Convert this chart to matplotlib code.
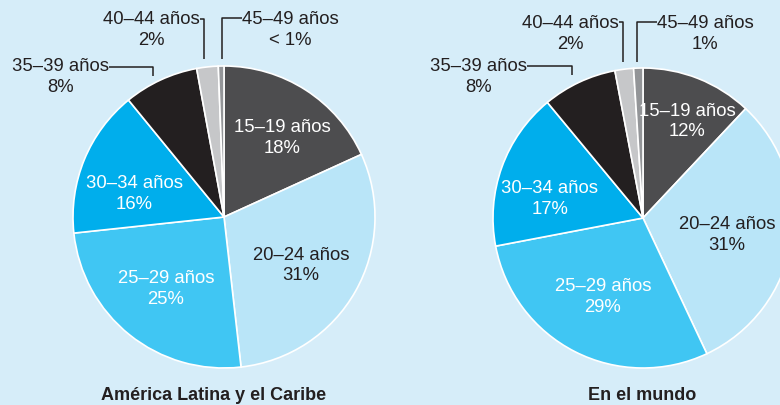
import matplotlib
matplotlib.use("Agg")
import matplotlib.pyplot as plt

plt.rcParams["font.family"] = ["Liberation Sans", "DejaVu Sans"]

W, H = 780, 406
BG = "#d6edf9"
OSCURO = "#231f20"

grupos = ["15–19 años", "20–24 años", "25–29 años", "30–34 años",
          "35–39 años", "40–44 años", "45–49 años"]
alc_vals = [18.2, 30.0, 25.1, 15.8, 8.0, 2.3, 0.6]
alc_txt = ["18%", "31%", "25%", "16%", "8%", "2%", "< 1%"]
mundo_vals = [12, 31, 29, 17, 8, 2, 1]
mundo_txt = ["12%", "31%", "29%", "17%", "8%", "2%", "1%"]
titulos = ["América Latina y el Caribe", "En el mundo"]

colores = ["#4d4d4f", "#b9e5f8", "#40c6f3", "#00aeec", "#231f20", "#c6c7c9", "#939598"]
col_texto = ["white", OSCURO, "white", "white", OSCURO, OSCURO, OSCURO]

# posiciones en pixeles (origen arriba a la izquierda)
pies = [
    dict(vals=alc_vals, txt=alc_txt, centro=(224, 218), r=151, titulo_x=214,
         dentro=[(282, 128), (301, 255), (166, 279), (134, 184)],
         fuera=[(60.5, 66.7), (151, 20), (290.5, 20)],
         lineas=[[(109, 67.5), (153, 67.5), (153, 77)],
                 [(200, 20), (204, 20), (204, 60)],
                 [(242, 19), (221.7, 19), (221.7, 60)]]),
    dict(vals=mundo_vals, txt=mundo_txt, centro=(643, 219), r=150, titulo_x=642,
         dentro=[(687, 111), (727, 225), (603, 287), (550, 189)],
         fuera=[(478.5, 66.7), (570, 24), (705, 24)],
         lineas=[[(527, 67), (571.7, 67), (571.7, 76)],
                 [(619, 23.3), (622.7, 23.3), (622.7, 63)],
                 [(657, 23.3), (637.3, 23.3), (637.3, 63)]]),
]

fig = plt.figure(figsize=(W / 100, H / 100), dpi=100, facecolor=BG)
ax = fig.add_axes([0, 0, 1, 1])
ax.set_facecolor(BG)

FS = 13.3
SALTO = 20.5

for p, titulo in zip(pies, titulos):
    cx, cy = p["centro"]
    ax.pie(p["vals"], colors=colores, startangle=90, counterclock=False,
           center=(cx, H - cy), radius=p["r"], frame=True,
           wedgeprops=dict(edgecolor="white", linewidth=1.2))

    # etiquetas dentro de las porciones grandes
    for i, (x, y) in enumerate(p["dentro"]):
        ax.text(x, H - y, grupos[i], ha="center", va="center",
                fontsize=FS, color=col_texto[i])
        ax.text(x, H - y - SALTO, p["txt"][i], ha="center", va="center",
                fontsize=FS, color=col_texto[i])

    # etiquetas de las porciones chicas, con línea guía
    for k, (x, y) in enumerate(p["fuera"]):
        i = 4 + k
        ax.text(x, H - y, grupos[i], ha="center", va="center",
                fontsize=FS, color=OSCURO)
        ax.text(x, H - y - SALTO, p["txt"][i], ha="center", va="center",
                fontsize=FS, color=OSCURO)

    for linea in p["lineas"]:
        xs = [q[0] for q in linea]
        ys = [H - q[1] for q in linea]
        ax.plot(xs, ys, color=OSCURO, lw=1.1, solid_capstyle="butt")

    ax.text(p["titulo_x"], H - 400, titulo, ha="center", va="baseline",
            fontsize=13, fontweight="bold", color=OSCURO)

ax.set_xlim(0, W)
ax.set_ylim(0, H)
ax.set_aspect("equal")
ax.axis("off")

fig.savefig("out.png", dpi=100, facecolor=BG)
